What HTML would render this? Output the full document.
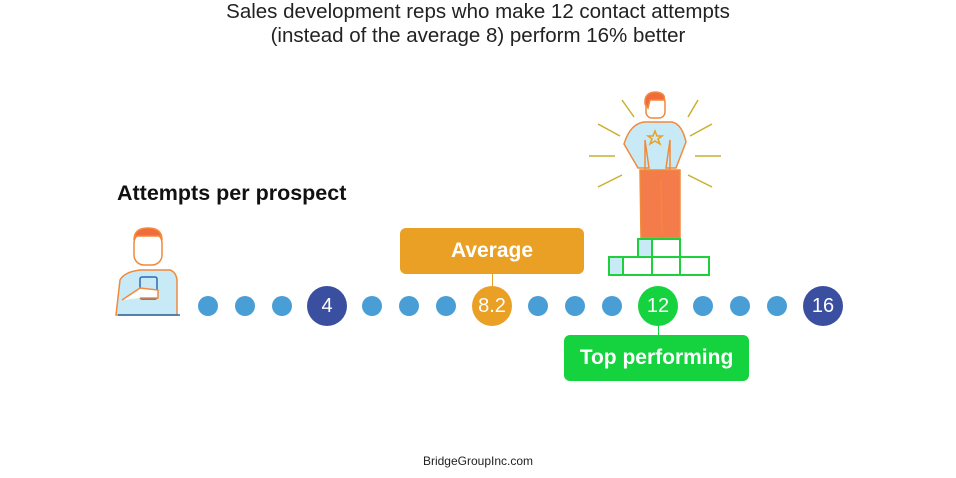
<!DOCTYPE html>
<html><head><style>
body{margin:0;width:956px;height:478px;background:#fff;font-family:"Liberation Sans",sans-serif;position:relative;overflow:hidden}
.t{position:absolute;left:0;width:956px;text-align:center;font-size:20.5px;color:#222;line-height:24px}
.d{position:absolute;border-radius:50%;background:#4A9ED6}
.n{position:absolute;width:40px;height:40px;border-radius:50%;color:#fff;font-size:20px;text-align:center;line-height:40px}
.box{position:absolute;border-radius:6px;color:#fff;font-size:21px;font-weight:bold;text-align:center}
</style></head><body>
<div class="t" style="top:0px">Sales development reps who make 12 contact attempts<br>(instead of the average 8) perform 16% better</div>
<div style="position:absolute;left:117px;top:181px;font-size:21.5px;font-weight:bold;color:#111">Attempts per prospect</div>
<div class="box" style="left:400px;top:228px;width:184px;height:46px;line-height:46px;background:#E9A024">Average</div>
<div style="position:absolute;left:492px;top:274px;width:1px;height:13px;background:#E9A024"></div>
<div class="box" style="left:564px;top:335px;width:185px;height:46px;line-height:46px;background:#14D33E">Top performing</div>
<div style="position:absolute;left:658px;top:325px;width:1px;height:10px;background:#14D33E"></div>
<div class="d" style="left:198px;top:296px;width:20px;height:20px"></div>
<div class="d" style="left:235px;top:296px;width:20px;height:20px"></div>
<div class="d" style="left:272px;top:296px;width:20px;height:20px"></div>
<div class="n" style="left:307px;top:286px;background:#3A4FA0">4</div>
<div class="d" style="left:362px;top:296px;width:20px;height:20px"></div>
<div class="d" style="left:399px;top:296px;width:20px;height:20px"></div>
<div class="d" style="left:436px;top:296px;width:20px;height:20px"></div>
<div class="n" style="left:472px;top:286px;background:#E9A024">8.2</div>
<div class="d" style="left:528px;top:296px;width:20px;height:20px"></div>
<div class="d" style="left:565px;top:296px;width:20px;height:20px"></div>
<div class="d" style="left:602px;top:296px;width:20px;height:20px"></div>
<div class="n" style="left:638px;top:286px;background:#14D33E">12</div>
<div class="d" style="left:693px;top:296px;width:20px;height:20px"></div>
<div class="d" style="left:730px;top:296px;width:20px;height:20px"></div>
<div class="d" style="left:767px;top:296px;width:20px;height:20px"></div>
<div class="n" style="left:803px;top:286px;background:#3A4FA0">16</div>
<svg style="position:absolute;left:0;top:0" width="956" height="478">
<g stroke="#F08A3C" stroke-width="1.5">
<path d="M116 315 L120 280 Q124 272 140 270 L170 270 Q176 272 177 280 L177 315 Z" fill="#C8EAF6"/>
<rect x="134" y="233" width="28" height="32" rx="10" fill="#fff"/>
<path d="M134 240 Q134 228 148 228 Q162 228 162 240 L160 236 L136 236Z" fill="#F26B3A"/>
<rect x="140" y="277" width="17" height="22" rx="2" fill="#C8EAF6" stroke="#2A6AB0"/>
<path d="M122 300 L140 288 L158 290 L158 298 L140 298" fill="#fff"/>
</g>
<line x1="118" y1="315" x2="180" y2="315" stroke="#2A6AB0" stroke-width="1.5"/>
<g stroke="#F08A3C" stroke-width="1.5">
<path d="M641 238 L640 170 L680 170 L680 238 L642 238 M661 180 L662 234" fill="#F47B4A"/>
<path d="M644 122 L672 122 Q682 124 686 142 L676 168 L666 168 L670 140 L670 170 L645 170 L645 140 L649 168 L638 168 L624 144 Q630 124 644 122Z" fill="#C8EAF6"/>
<rect x="646" y="96" width="19" height="22" rx="6" fill="#fff"/>
<path d="M645 104 Q644 92 656 92 Q666 93 664 100 L650 100 L648 108Z" fill="#F26B3A"/>
<path d="M655 131 L657 136 L662 136 L658 139 L660 144 L655 141 L650 144 L652 139 L648 136 L653 136Z" fill="none" stroke="#E9A024"/>
</g>
<g stroke="#C8B030" stroke-width="1.5">
<line x1="622" y1="100" x2="634" y2="117"/><line x1="688" y1="117" x2="698" y2="100"/>
<line x1="598" y1="124" x2="620" y2="136"/><line x1="690" y1="136" x2="712" y2="124"/>
<line x1="589" y1="156" x2="615" y2="156"/><line x1="695" y1="156" x2="721" y2="156"/>
<line x1="598" y1="187" x2="622" y2="175"/><line x1="688" y1="175" x2="712" y2="187"/>
</g>
<g stroke="#1ED13A" stroke-width="2" fill="#fff">
<rect x="638" y="239" width="14" height="18" fill="#C8EAF6"/><rect x="652" y="239" width="28" height="18"/>
<rect x="609" y="257" width="14" height="18" fill="#C8EAF6"/><rect x="623" y="257" width="29" height="18"/><rect x="652" y="257" width="28" height="18"/><rect x="680" y="257" width="29" height="18"/>
</g>
</svg>
<div style="position:absolute;left:0;width:956px;top:454px;text-align:center;font-size:12px;color:#222">BridgeGroupInc.com</div>
</body></html>
